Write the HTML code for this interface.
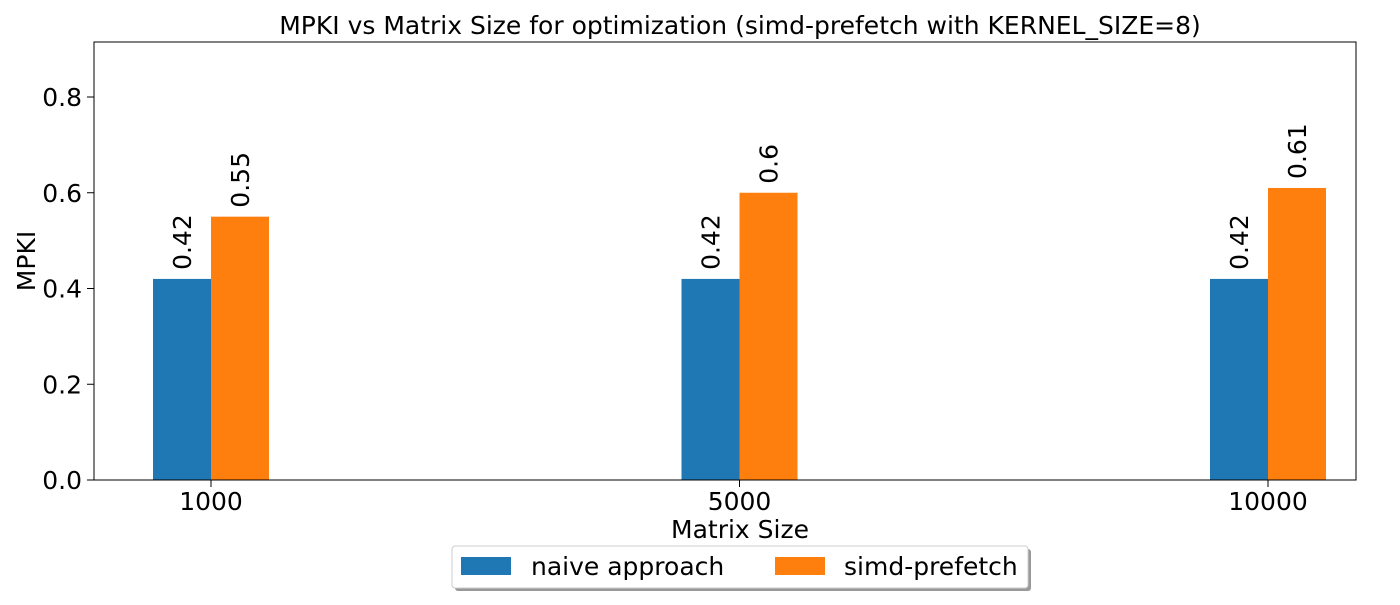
<!DOCTYPE html>
<html><head><meta charset="utf-8"><style>
body{margin:0;background:#fff}
svg text{font-family:"DejaVu Sans","Liberation Sans",sans-serif;fill:#000}
</style></head><body>
<svg id="chart" width="1400" height="600" xmlns="http://www.w3.org/2000/svg">
<text x="740" y="34" font-size="25" text-anchor="middle">MPKI vs Matrix Size for optimization (simd-prefetch with KERNEL_SIZE=8)</text>
<g id="plot"></g>
<rect x="94" y="42" width="1262" height="438" fill="none" stroke="#000" stroke-width="1"/>
<text x="740" y="538" font-size="25" text-anchor="middle">Matrix Size</text>
<text transform="translate(35,261) rotate(-90)" font-size="25" text-anchor="middle">MPKI</text>
<g>
<rect x="455" y="549" width="576" height="42" rx="3" fill="#999"/>
<rect x="452" y="546" width="576" height="42" rx="3" fill="#fff" stroke="#ccc"/>
<rect x="461" y="557" width="50" height="18" fill="#1f77b4"/>
<text x="531" y="575" font-size="25">naive approach</text>
<rect x="775" y="557" width="50" height="18" fill="#ff7f0e"/>
<text x="844" y="575" font-size="25">simd-prefetch</text>
</g>
</svg>
<script>
const categories=["1000","5000","10000"];
const naive=[0.42,0.42,0.42];
const simd=[0.55,0.6,0.61];
const yTicks=[0,0.2,0.4,0.6,0.8];
const yTickLabels=["0.0","0.2","0.4","0.6","0.8"];
const NS="http://www.w3.org/2000/svg";
const g=document.getElementById('plot');
const y=v=>480-v*478.75;
const x=i=>211+528.5*i;
const bw=58;
function mk(t,a){const e=document.createElementNS(NS,t);for(const k in a)e.setAttribute(k,a[k]);g.appendChild(e);return e;}
yTicks.forEach((v,i)=>{
 const l=mk('line',{x1:87,x2:94,y1:y(v),y2:y(v),stroke:'#000'});
 
 
 const t=mk('text',{x:82,y:y(v)+9,'font-size':25,'text-anchor':'end'});t.textContent=yTickLabels[i];
 
 
});
categories.forEach((c,i)=>{
 const cx=x(i);
 const l=mk('line',{x1:cx,x2:cx,y1:480,y2:487,stroke:'#000'});
 
 
 const t=mk('text',{x:cx,y:510,'font-size':25,'text-anchor':'middle'});t.textContent=c;
 
 
 [[naive,'#1f77b4',cx-bw,'naive'],[simd,'#ff7f0e',cx,'simd']].forEach(([arr,col,bx,nm])=>{
  const v=arr[i];
  const r=mk('rect',{x:bx,y:y(v),width:bw,height:480-y(v),fill:col});
  
  
  const tx=bx+bw/2+9,ty=y(v)-9;
  const lt=mk('text',{transform:`translate(${tx},${ty}) rotate(-90)`,'font-size':25});lt.textContent=String(v);
  
  
 });
});
</script>
</body></html>
